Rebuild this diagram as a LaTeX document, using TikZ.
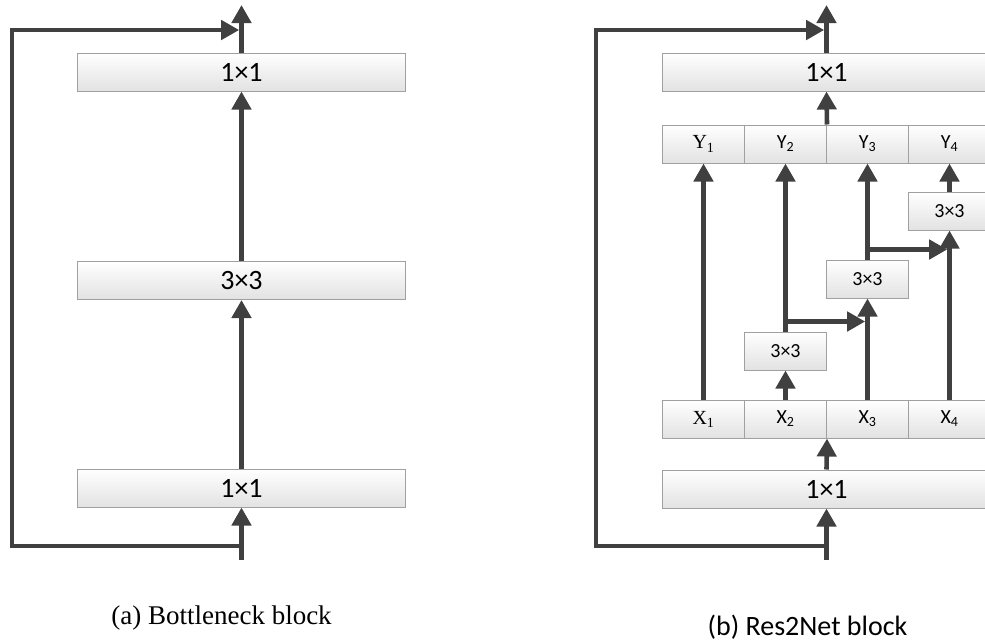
\documentclass[tikz,border=0pt]{standalone}
\usepackage{fontspec}
\setmainfont{Liberation Serif}
\newfontfamily\boxfont{Carlito}
\usetikzlibrary{arrows.meta,calc,positioning}
\definecolor{Ink}{HTML}{404040}
\definecolor{Edge}{HTML}{A0A0A0}
\definecolor{Shade}{HTML}{E2E2E2}

\begin{document}
\begin{tikzpicture}[x=1pt,y=-1pt,every node/.style={text=black},layer/.style={draw=Edge,line width=1pt,top color=white,bottom color=Shade,minimum height=38pt,inner sep=0pt},wide/.style={layer,minimum width=328pt,font=\boxfont\fontsize{28}{30}\selectfont},cell/.style={layer,minimum width=82pt,font=\boxfont\fontsize{20}{22}\selectfont},rmcell/.style={cell,font=\rmfamily\fontsize{20}{22}\selectfont},arrow/.style={-{Triangle[width=19pt,length=18pt]},line width=4.6pt,draw=Ink}]
\useasboundingbox (0,0) rectangle (985,643);
\fill[white] (0,0) rectangle (985,643);

% bottleneck block
\node[wide] (a1) at (241.5,488) {1×1}; \node[wide] (a2) at (241.5,280.5) {3×3}; \node[wide] (a3) at (241.5,72) {1×1};
\coordinate (ain) at (241.5,560); \coordinate (ajoin) at (241.5,546); \coordinate (askip) at (241.5,30); \coordinate (aout) at (241.5,5);
\draw[arrow] (ain) -- (a1.south); \draw[arrow] (a1) -- (a2); \draw[arrow] (a2) -- (a3); \draw[arrow] (a3) -- (aout);
\draw[arrow,shorten >=2.3pt] (ajoin) -- ++(-229.5,0) |- (askip);
\node[font=\rmfamily\fontsize{27}{29}\selectfont] (capa) at (221.5,618) {(a) Bottleneck block};

% res2net block
\node[wide] (b1) at (826.5,489) {1×1}; \node[wide] (b2) at (826.5,72) {1×1};
\foreach \i/\s in {1/rmcell,2/cell,3/cell,4/cell} {\node[\s] (x\i) at (621.5+82*\i,419) {X\textsubscript{\i}}; \node[\s] (y\i) at (621.5+82*\i,144) {Y\textsubscript{\i}};}
\foreach \i/\y in {2/351,3/279,4/211} \node[cell] (s\i) at (621.5+82*\i,\y) {3×3};
\coordinate (bin) at (826.5,560); \coordinate (bjoin) at (826.5,546); \coordinate (bskip) at (826.5,30); \coordinate (bout) at (826.5,5);
\draw[arrow] (bin) -- (b1.south); \draw[arrow] (b1.north) -- (x2.south east);
\draw[arrow] (x1) -- (y1); \foreach \i in {2,3,4} {\draw[arrow] (x\i) -- (s\i); \draw[arrow] (s\i) -- (y\i);}
\coordinate (t2) at ($(s2.north)+(0,-10)$); \coordinate (t3) at ($(s3.north)+(0,-10)$);
\draw[arrow,shorten >=2.3pt] (t2) -- (t2 -| x3); \draw[arrow,shorten >=2.3pt] (t3) -- (t3 -| x4);
\draw[arrow] (y2.north east) -- (b2.south); \draw[arrow] (b2) -- (bout);
\draw[arrow,shorten >=2.3pt] (bjoin) -- ++(-230.5,0) |- (bskip);
\node[font=\boxfont\fontsize{28}{30}\selectfont] (capb) at (807.5,627) {(b) Res2Net block};

\end{tikzpicture}
\end{document}
